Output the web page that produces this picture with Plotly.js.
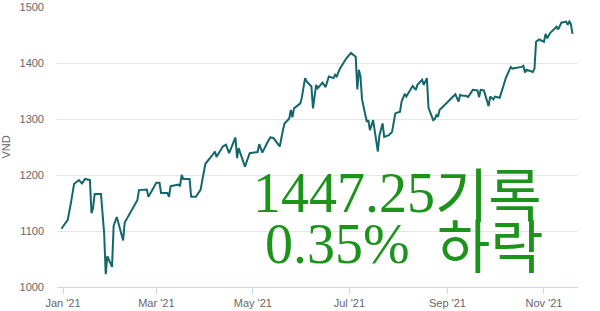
<!DOCTYPE html>
<html>
<head>
<meta charset="utf-8">
<script src="https://cdn.plot.ly/plotly-3.0.1.min.js"></script>
<style>html,body{margin:0;padding:0;background:#fff;}#chart{width:600px;height:311px;}</style>
</head>
<body>
<div id="chart"></div>
<script>
var dates = [
"2020-12-31","2021-01-04","2021-01-06","2021-01-08","2021-01-11","2021-01-13","2021-01-15","2021-01-18","2021-01-19","2021-01-20",
"2021-01-21","2021-01-25","2021-01-27","2021-01-28","2021-01-29","2021-02-01","2021-02-02","2021-02-04","2021-02-08","2021-02-09",
"2021-02-17","2021-02-18","2021-02-23","2021-02-24","2021-03-01","2021-03-03","2021-03-04","2021-03-08","2021-03-09","2021-03-10",
"2021-03-15","2021-03-16","2021-03-17","2021-03-18","2021-03-22","2021-03-23","2021-03-26","2021-03-29","2021-03-30","2021-04-01",
"2021-04-05","2021-04-07","2021-04-08","2021-04-12","2021-04-14","2021-04-16","2021-04-20","2021-04-21","2021-04-22","2021-04-26",
"2021-04-29","2021-05-04","2021-05-05","2021-05-07","2021-05-10","2021-05-12","2021-05-14","2021-05-18","2021-05-20","2021-05-21",
"2021-05-24","2021-05-25","2021-05-26","2021-05-27","2021-05-31","2021-06-01","2021-06-03","2021-06-04","2021-06-07","2021-06-08",
"2021-06-10","2021-06-11","2021-06-14","2021-06-16","2021-06-18","2021-06-21","2021-06-22","2021-06-23","2021-06-25","2021-06-29",
"2021-07-02","2021-07-05","2021-07-06","2021-07-07","2021-07-08","2021-07-09","2021-07-12","2021-07-13","2021-07-14","2021-07-16",
"2021-07-19","2021-07-20","2021-07-22","2021-07-23","2021-07-26","2021-07-28","2021-07-30","2021-08-02","2021-08-03","2021-08-05",
"2021-08-06","2021-08-09","2021-08-10","2021-08-12","2021-08-13","2021-08-16","2021-08-17","2021-08-19","2021-08-20","2021-08-23",
"2021-08-24","2021-08-25","2021-08-26","2021-08-27","2021-08-31","2021-09-03","2021-09-06","2021-09-08","2021-09-09","2021-09-10",
"2021-09-13","2021-09-14","2021-09-17","2021-09-20","2021-09-21","2021-09-22","2021-09-24","2021-09-27","2021-09-28","2021-09-30",
"2021-10-01","2021-10-04","2021-10-06","2021-10-07","2021-10-08","2021-10-11","2021-10-12","2021-10-18","2021-10-19","2021-10-20",
"2021-10-21","2021-10-25","2021-10-26","2021-10-27","2021-10-29","2021-11-01","2021-11-02","2021-11-03","2021-11-05","2021-11-08",
"2021-11-09","2021-11-10","2021-11-11","2021-11-12","2021-11-15","2021-11-16","2021-11-17","2021-11-18","2021-11-19"
];
var vnIndex = [
1104,1120,1150,1184,1191,1185,1193,1191,1132,1141,
1166,1166,1096,1023,1055,1036,1109,1125,1083,1115,
1155,1173,1174,1161,1186,1186,1168,1168,1161,1180,
1183,1180,1200,1193,1193,1161,1161,1174,1190,1220,
1234,1242,1232,1251,1254,1239,1267,1230,1248,1215,
1239,1241,1255,1240,1257,1267,1266,1251,1280,1292,
1301,1316,1303,1319,1328,1339,1373,1367,1358,1319,
1361,1355,1365,1357,1376,1373,1379,1376,1390,1408,
1418,1411,1353,1388,1376,1335,1295,1298,1280,1298,
1242,1271,1292,1268,1271,1277,1310,1313,1331,1345,
1340,1355,1359,1352,1361,1370,1361,1373,1320,1298,
1300,1307,1304,1316,1327,1337,1344,1331,1343,1342,
1341,1339,1352,1351,1339,1352,1351,1323,1340,1335,
1340,1338,1358,1367,1374,1393,1390,1393,1395,1383,
1388,1384,1390,1438,1442,1438,1452,1444,1454,1462,
1465,1460,1466,1472,1474,1468,1474,1470,1452
];
var tickDates = ["2021-01-01","2021-03-01","2021-05-01","2021-07-01","2021-09-01","2021-11-01"];
var tickLabels = ["Jan '21","Mar '21","May '21","Jul '21","Sep '21","Nov '21"];
var yTicks = [1000,1100,1200,1300,1400,1500];
var overlayNumbers = ["1447.25", "0.35%"];
var overlayWords = ["기록", "하락"];

var trace = {
  x: dates, y: vnIndex, type: 'scatter', mode: 'lines',
  line: {color: '#13676c', width: 2}, hoverinfo: 'skip'
};
var green = '#1c941c';
var numFont = {family: 'Liberation Serif, serif', size: 56, color: green};
var wordFont = {family: 'Noto Sans CJK KR, sans-serif', size: 58, color: green};
function ann(text, x, y, anchor, font) {
  return {xref: 'paper', yref: 'paper', x: x, y: y, xanchor: anchor, yanchor: 'middle',
          text: text, showarrow: false, font: font, borderpad: 0};
}
var layout = {
  width: 600, height: 311,
  margin: {l: 57, r: 22, t: 7, b: 24},
  paper_bgcolor: '#fff', plot_bgcolor: '#fff',
  showlegend: false,
  font: {family: 'Liberation Sans, Arial, sans-serif', color: '#666', size: 11},
  xaxis: {
    type: 'date',
    range: ['2020-12-28 05:00', '2021-11-22 12:00'],
    tickvals: tickDates, ticktext: tickLabels,
    showgrid: false, zeroline: false,
    showline: true, linecolor: '#ccd6eb', linewidth: 1,
    ticks: 'outside', ticklen: 6, tickcolor: '#ccd6eb', tickwidth: 1,
    tickfont: {size: 11, color: '#666'}
  },
  yaxis: {
    range: [1000, 1500],
    tickvals: yTicks,
    showgrid: true, gridcolor: '#e6e6e6', gridwidth: 1,
    zeroline: false, showline: false, ticks: '',
    ticklabelstandoff: 12,
    tickfont: {size: 11, color: '#666'},
    title: {text: 'VND', font: {size: 11, color: '#666'}, standoff: 12}
  },
  annotations: [
    ann(overlayNumbers[0], 0.3743, 0.3345, 'left', numFont),
    ann(overlayWords[0], 0.829, 0.340, 'center', wordFont),
    ann(overlayNumbers[1], 0.397, 0.153, 'left', numFont),
    ann(overlayWords[1], 0.833, 0.158, 'center', wordFont)
  ]
};
Plotly.newPlot('chart', [trace], layout, {staticPlot: true, displayModeBar: false});
</script>
</body>
</html>
